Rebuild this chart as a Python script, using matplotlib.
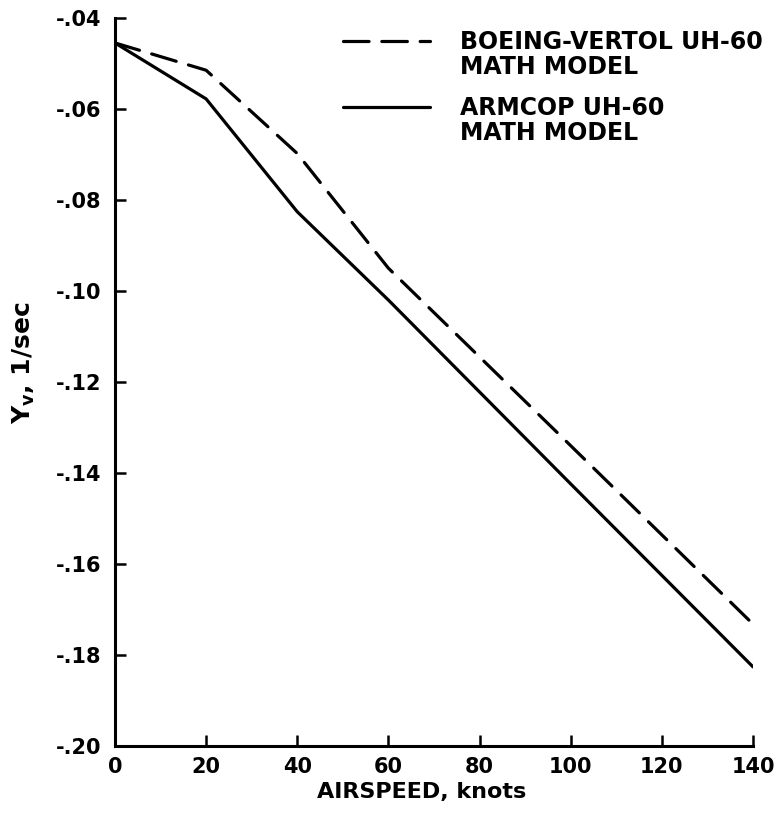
import matplotlib
matplotlib.use("Agg")
import matplotlib.pyplot as plt
from matplotlib.lines import Line2D

plt.rcParams['font.family'] = ['DejaVu Sans']
plt.rcParams['font.weight'] = 'bold'
plt.rcParams['mathtext.fontset'] = 'custom'
plt.rcParams['mathtext.bf'] = 'DejaVu Sans:bold'
plt.rcParams['mathtext.rm'] = 'DejaVu Sans:bold'
plt.rcParams['mathtext.it'] = 'DejaVu Sans:bold'

# Data
airspeed = [0, 20, 40, 60, 80, 100, 120, 140]
boeing_vertol = [-0.0455, -0.0515, -0.0698, -0.0950, -0.1145, -0.1340, -0.1536, -0.1732]
armcop = [-0.0455, -0.0578, -0.0826, -0.1020, -0.1222, -0.1424, -0.1625, -0.1826]
series_first = ["BOEING-VERTOL UH-60", "ARMCOP UH-60"]
series_second = ["MATH MODEL", "MATH MODEL"]
x_ticks = [0, 20, 40, 60, 80, 100, 120, 140]
y_ticks = [-0.20, -0.18, -0.16, -0.14, -0.12, -0.10, -0.08, -0.06, -0.04]
y_tick_labels = ['-.20', '-.18', '-.16', '-.14', '-.12', '-.10', '-.08', '-.06', '-.04']

fig = plt.figure(figsize=(7.79, 8.14), dpi=100)
ax = fig.add_axes([0.1476, 0.0835, 0.819, 0.8945])

l1, = ax.plot(airspeed, boeing_vertol, color='black', lw=2.3, dashes=(8, 4),
              dash_capstyle='round')
l2, = ax.plot(airspeed, armcop, color='black', lw=2.3, solid_capstyle='round')

ax.set_xlim(0, 140)
ax.set_ylim(-0.20, -0.04)
ax.set_xticks(x_ticks)
ax.set_xticklabels([str(v) for v in x_ticks])
ax.set_yticks(y_ticks)
ax.set_yticklabels(y_tick_labels)

for s in ['top', 'right']:
    ax.spines[s].set_visible(False)
for s in ['left', 'bottom']:
    ax.spines[s].set_linewidth(2.2)

ax.tick_params(axis='both', direction='in', length=8, width=1.8, labelsize=15)
ax.tick_params(axis='y', pad=10)
ax.tick_params(axis='x', pad=8)

ax.set_xlabel('AIRSPEED, knots', fontsize=16, fontweight='bold')
ax.xaxis.set_label_coords(0.481, -0.050)
ax.set_ylabel(r'$\mathbf{Y_{v}}$, 1/sec', fontsize=18, fontweight='bold')
ax.yaxis.set_label_coords(-0.122, 0.526)

blank = Line2D([], [], color='none')
leg_kw = dict(loc='upper left', frameon=False, fontsize=17, handlelength=3.7,
              handletextpad=1.25, labelspacing=0.05, borderaxespad=0, borderpad=0)
leg1 = ax.legend([l1, blank], [series_first[0], series_second[0]],
                 bbox_to_anchor=(0.357, 0.983), **leg_kw)
ax.add_artist(leg1)
leg2 = ax.legend([l2, blank], [series_first[1], series_second[1]],
                 bbox_to_anchor=(0.357, 0.893), **leg_kw)

fig.savefig('out.png', dpi=100)
